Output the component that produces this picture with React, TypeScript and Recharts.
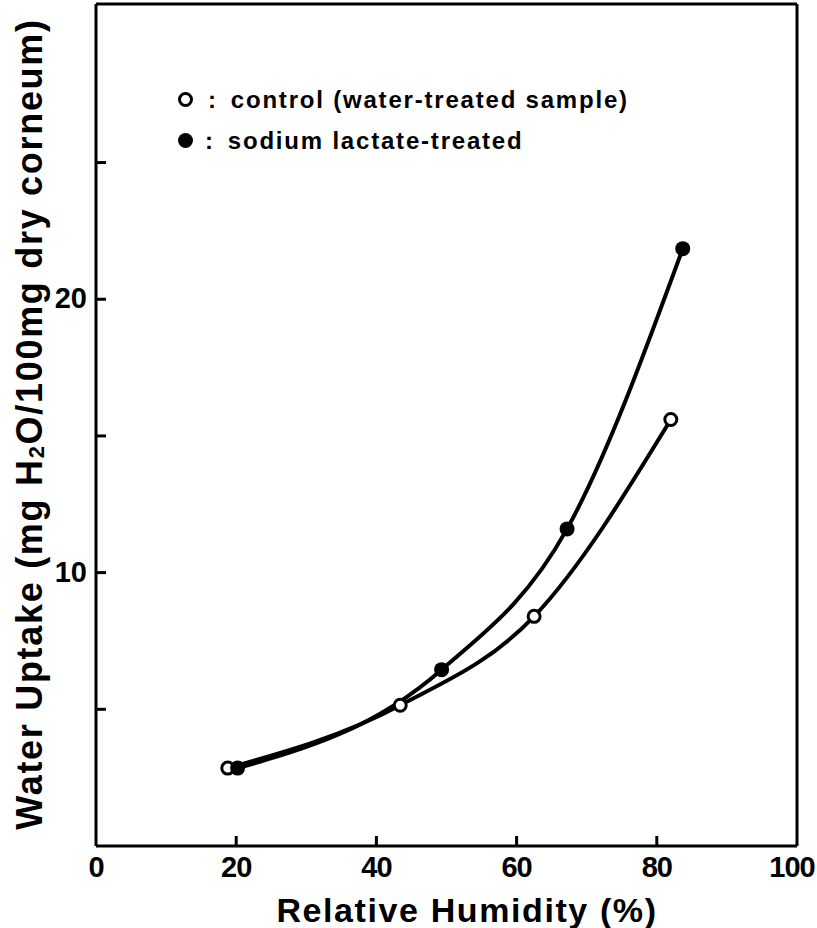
import React from "react";
import { Line, LineChart, ReferenceLine, XAxis, YAxis } from "recharts";

// Valores (humedad relativa %, mg H2O / 100 mg)
const controlRH = [18.8, 43.4, 62.5, 82.0];
const controlUptake = [2.85, 5.15, 8.4, 15.6];
const lactateRH = [20.2, 49.3, 67.2, 83.7];
const lactateUptake = [2.85, 6.45, 11.6, 21.85];

const xTicks = [0, 20, 40, 60, 80, 100];
const yTicks = [5, 10, 15, 20, 25];
const yLabelled = [10, 20];
const X_MAX = 100;
const Y_MAX = 30.8;

const FONT = "'Liberation Sans', Arial, Helvetica, sans-serif";
const INK = "#000";

const controlData = controlRH.map((rh, i) => ({ rh, uptake: controlUptake[i] }));
const lactateData = lactateRH.map((rh, i) => ({ rh, uptake: lactateUptake[i] }));

const Y_GAP = 9;
const X_GAP = 11;

function YTick({ x, y, payload }: any) {
  const ax = x + Y_GAP;
  return (
    <g>
      <line x1={ax} x2={ax + 10} y1={y} y2={y} stroke={INK} strokeWidth={3} />
      {yLabelled.includes(payload.value) && (
        <text x={x} y={y + 9} textAnchor="end" fontFamily={FONT} fontWeight="bold" fontSize={29} fill={INK}>
          {payload.value}
        </text>
      )}
    </g>
  );
}

function XTick({ x, y, payload }: any) {
  const ay = y - X_GAP;
  const inner = payload.value > 0 && payload.value < X_MAX;
  // la última etiqueta queda pegada al borde derecho de la figura
  const dx = payload.value === X_MAX ? -5 : 0;
  return (
    <g>
      {inner && <line x1={x} x2={x} y1={ay} y2={ay - 10} stroke={INK} strokeWidth={3} />}
      <text x={x + dx} y={ay + 31} textAnchor="middle" fontFamily={FONT} fontWeight="bold" fontSize={29} letterSpacing={-1} fill={INK}>
        {payload.value}
      </text>
    </g>
  );
}

function OpenDot({ cx, cy }: any) {
  return <circle cx={cx} cy={cy} r={6} fill="#fff" stroke={INK} strokeWidth={3} />;
}

function FilledDot({ cx, cy }: any) {
  return <circle cx={cx} cy={cy} r={7.5} fill={INK} stroke="none" />;
}

function LegendBox() {
  const row: React.CSSProperties = { display: "flex", alignItems: "center", height: 41, whiteSpace: "nowrap" };
  const txt: React.CSSProperties = { fontFamily: FONT, fontWeight: "bold", fontSize: 24, letterSpacing: 1.8, color: INK };
  return (
    <div style={{ position: "absolute", left: 178, top: 79 }}>
      <div style={row}>
        <span style={{ width: 9, height: 9, borderRadius: "50%", border: "3px solid #000", display: "inline-block" }} />
        <span style={{ ...txt, marginLeft: 15, marginRight: 13 }}>:</span>
        <span style={txt}>control (water-treated sample)</span>
      </div>
      <div style={row}>
        <span style={{ width: 15, height: 15, borderRadius: "50%", background: "#000", display: "inline-block" }} />
        <span style={{ ...txt, marginLeft: 12, marginRight: 13 }}>:</span>
        <span style={txt}>sodium lactate-treated</span>
      </div>
    </div>
  );
}

function YTitle() {
  return (
    <text
      transform="translate(29, 424) rotate(-90)"
      textAnchor="middle"
      dominantBaseline="central"
      fontFamily={FONT}
      fontWeight="bold"
      fontSize={36}
      letterSpacing={1.7}
      fill={INK}
    >
      Water Uptake (mg H<tspan fontSize={22} dy={7}>2</tspan>
      <tspan dy={-7}>O/100mg dry corneum)</tspan>
    </text>
  );
}

function XTitle() {
  return (
    <text x={467} y={922} textAnchor="middle" fontFamily={FONT} fontWeight="bold" fontSize={34} letterSpacing={1.6} fill={INK}>
      Relative Humidity (%)
    </text>
  );
}

export default function App() {
  return (
    <div style={{ position: "absolute", left: 0, top: 0, width: 817, height: 928, background: "#fff" }}>
      <LineChart width={817} height={928} margin={{ top: 4, right: 20, bottom: 0, left: 0 }}>
        <XAxis
          dataKey="rh"
          type="number"
          domain={[0, X_MAX]}
          ticks={xTicks}
          height={82}
          tickSize={0}
          tickMargin={X_GAP}
          tickLine={false}
          axisLine={{ stroke: INK, strokeWidth: 3 }}
          tick={<XTick />}
          label={{ content: () => <XTitle /> }}
        />
        <YAxis
          dataKey="uptake"
          type="number"
          domain={[0, Y_MAX]}
          allowDataOverflow
          ticks={yTicks}
          width={96}
          tickSize={0}
          tickMargin={Y_GAP}
          tickLine={false}
          axisLine={{ stroke: INK, strokeWidth: 3 }}
          tick={<YTick />}
          label={{ content: () => <YTitle /> }}
        />
        <ReferenceLine x={X_MAX} stroke={INK} strokeWidth={3} ifOverflow="visible" />
        <ReferenceLine y={Y_MAX} stroke={INK} strokeWidth={3} ifOverflow="visible" />
        <Line
          data={controlData}
          dataKey="uptake"
          name="control (water-treated sample)"
          type="monotone"
          stroke={INK}
          strokeWidth={4}
          dot={<OpenDot />}
          activeDot={false}
          isAnimationActive={false}
        />
        <Line
          data={lactateData}
          dataKey="uptake"
          name="sodium lactate-treated"
          type="monotone"
          stroke={INK}
          strokeWidth={4}
          dot={<FilledDot />}
          activeDot={false}
          isAnimationActive={false}
        />
      </LineChart>
      <LegendBox />
    </div>
  );
}
